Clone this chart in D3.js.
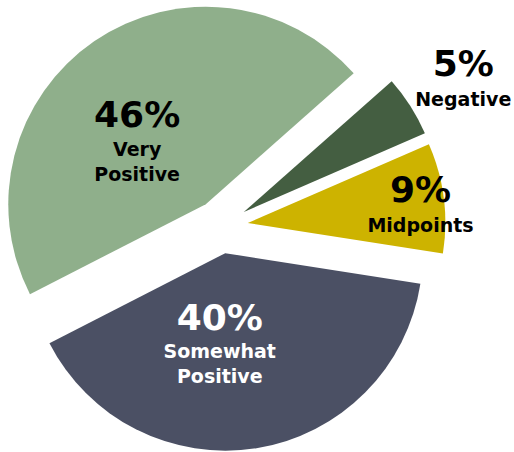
<!DOCTYPE html>
<html>
<head>
<meta charset="utf-8">
<script src="https://cdn.jsdelivr.net/npm/d3@7"></script>
<style>
  html, body { margin: 0; padding: 0; background: #ffffff; }
  svg { display: block; }
  text { font-family: "DejaVu Sans", Verdana, sans-serif; font-weight: bold; }
</style>
</head>
<body>
<svg id="chart" width="514" height="452"></svg>
<script>
// Survey sentiment shares, listed clockwise from the first slice
const categories = ["Negative", "Midpoints", "Somewhat Positive", "Very Positive"];
const shares = [5, 9, 40, 46];
const sliceColors = ["#445e41", "#cdb300", "#4b5064", "#8faf8b"];
const textColors = ["#000000", "#000000", "#ffffff", "#000000"];

const width = 514, height = 452;
const cx = 221, cy = 226.5;
const radius = 197.5;
const explode = 27;
const deg = Math.PI / 180;
const start = 48.5 * deg;

// Label anchors: polar position (angle clockwise from north, distance) from pie centre
const labelAnchor = {
  "Negative":          { angle: 58.2, dist: 285, lineGap: 30 },
  "Midpoints":         { angle: 83.0, dist: 201, lineGap: 29.5 },
  "Somewhat Positive": { angle: 180.7, dist: 103.5, lineGap: 28.5 },
  "Very Positive":     { angle: -40.0, dist: 130.5, lineGap: 29.5 }
};
// Line breaks of the category names inside the slices
const labelLines = {
  "Negative": ["Negative"],
  "Midpoints": ["Midpoints"],
  "Somewhat Positive": ["Somewhat", "Positive"],
  "Very Positive": ["Very", "Positive"]
};

const svg = d3.select("#chart");
const g = svg.append("g").attr("transform", `translate(${cx},${cy})`);

const pie = d3.pie()
  .value(d => d.value)
  .sort(null)
  .startAngle(start)
  .endAngle(start + 2 * Math.PI);

const data = categories.map((c, i) => ({
  category: c, value: shares[i], color: sliceColors[i], text: textColors[i]
}));
const arcs = pie(data);
const arc = d3.arc().innerRadius(0).outerRadius(radius);

// Exploded slices: every wedge pushed out along its mid angle
g.selectAll("path.slice")
  .data(arcs)
  .join("path")
  .attr("class", "slice")
  .attr("fill", d => d.data.color)
  .attr("transform", d => {
    const mid = (d.startAngle + d.endAngle) / 2;
    return `translate(${Math.sin(mid) * explode},${-Math.cos(mid) * explode})`;
  })
  .attr("d", arc);

// Percent value and category name for each slice
const labels = g.selectAll("g.label")
  .data(arcs)
  .join("g")
  .attr("class", "label")
  .attr("transform", d => {
    const a = labelAnchor[d.data.category];
    const t = a.angle * deg;
    return `translate(${Math.sin(t) * a.dist},${-Math.cos(t) * a.dist})`;
  });

labels.append("text")
  .attr("text-anchor", "middle")
  .attr("font-size", 36)
  .attr("fill", d => d.data.text)
  .text(d => `${d.data.value}%`);

labels.each(function (d) {
  const a = labelAnchor[d.data.category];
  const lines = labelLines[d.data.category];
  const sel = d3.select(this);
  lines.forEach((line, i) => {
    sel.append("text")
      .attr("text-anchor", "middle")
      .attr("font-size", 19)
      .attr("y", a.lineGap + i * 25)
      .attr("fill", d.data.text)
      .text(line);
  });
});
</script>
</body>
</html>
